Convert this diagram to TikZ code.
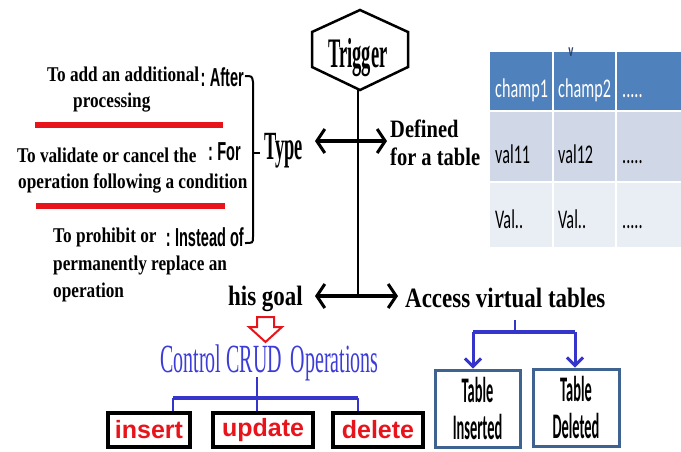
\documentclass[tikz,border=0pt]{standalone}
\usepackage{fontspec}
\usetikzlibrary{arrows.meta}
\setmainfont{Liberation Serif}
% condensed faces for the various labels
\newfontfamily\leftfont[FakeStretch=0.82]{Liberation Serif}
\newfontfamily\typefont[FakeStretch=0.46]{Liberation Serif}
\newfontfamily\trigfont[FakeStretch=0.44]{Liberation Serif}
\newfontfamily\crudfont[FakeStretch=0.5]{Liberation Serif}
\newfontfamily\kindfont[FakeStretch=0.56]{Liberation Sans}
\newfontfamily\opfont{Liberation Sans}
\newfontfamily\cellfont[FakeStretch=0.6]{Carlito}
\newfontfamily\vtfont[FakeStretch=0.4]{Carlito}
\definecolor{opred}{HTML}{E8141C}
\definecolor{crudblue}{HTML}{3C3CD8}
\definecolor{treeblue}{HTML}{3535CC}
\definecolor{hdrblue}{HTML}{4F81BD}
\definecolor{rowa}{HTML}{D0D8E8}
\definecolor{rowb}{HTML}{E9EDF4}
\definecolor{vtframe}{HTML}{3F6390}
\definecolor{markblue}{HTML}{2A3F6A}
\tikzset{
  txt/.style={inner sep=0pt, anchor=base west},
  lefttxt/.style={txt, font=\leftfont\fontsize{21}{25}\selectfont\bfseries},
  headtxt/.style={txt, font=\leftfont\fontsize{28}{32}\selectfont\bfseries},
  kindtxt/.style={inner sep=0pt, anchor=base east, font=\kindfont\fontsize{26}{30}\selectfont\bfseries},
  dblarrow/.style={line width=4pt, {Straight Barb[length=8pt,width=24pt,line width=3pt]}-{Straight Barb[length=8pt,width=24pt,line width=3pt]}},
  opbox/.style={draw=black, line width=3.5pt, minimum height=34pt, inner sep=0pt,
    text=opred, font=\opfont\fontsize{25}{28}\selectfont\bfseries},
  vtbox/.style={draw=vtframe, line width=3pt, minimum height=77pt, inner sep=0pt,
    align=center, font=\vtfont\fontsize{36}{37}\selectfont\bfseries},
  bluetree/.style={draw=treeblue, line width=2.5pt},
  bluearrow/.style={draw=treeblue, line width=3pt, -{Straight Barb[length=8pt,width=16pt,line width=3pt]}},
  celltxt/.style={txt, font=\cellfont\fontsize{27}{30}\selectfont},
}
\begin{document}
\begin{tikzpicture}[x=1pt,y=-1pt]
\useasboundingbox (0,0) rectangle (681,451);

% ---- trigger hexagon and main stem
\draw[line width=2.5pt, line join=miter] (360,10) -- (408,32) -- (408,67) -- (360,90) -- (312,67) -- (312,32) -- cycle;
\node[inner sep=0pt, anchor=base, font=\trigfont\fontsize{42}{44}\selectfont\bfseries] (trig) at (358,67) {Trigger};
\coordinate (hexbot) at (358,90);
\coordinate (goalhub) at (358,296);
\draw[line width=2pt] (hexbot) -- (goalhub);

% ---- type / defined for a table
\node[txt, font=\typefont\fontsize{40}{44}\selectfont\bfseries] (type) at (264,159) {Type};
\node[txt, font=\leftfont\fontsize{25}{28}\selectfont\bfseries] (def1) at (390,137) {Defined};
\node[txt, font=\leftfont\fontsize{25}{28}\selectfont\bfseries] (def2) at (390,165) {for a table};
\coordinate (typeL) at (315,141);
\coordinate (typeR) at (387,141);
\draw[dblarrow] (typeL) -- (typeR);

% ---- brace gathering the three kinds
\draw[line width=2pt] (245,76) .. controls (252,76) .. (253,82) -- (253,237) .. controls (253,243) .. (245,243);
\coordinate (bracetip) at (253,153);
\coordinate (bracepoint) at (260,153);
\draw[line width=2pt] (bracetip) -- (bracepoint);

\node[kindtxt] (after) at (244,86) {:\,After};
\node[kindtxt] (for) at (241,160) {:\,For};
\node[kindtxt] (instead) at (244,246) {:\,Instead of};

% ---- descriptions of the kinds
\node[lefttxt] (d1a) at (47,81) {To add an additional};
\node[lefttxt] (d1b) at (73,107) {processing};
\draw[opred, line width=6pt] (35,125) -- (223,125);
\node[lefttxt] (d2a) at (17,162) {To validate or cancel the};
\node[lefttxt] (d2b) at (18,188) {operation following a condition};
\draw[opred, line width=6pt] (36,206) -- (225,206);
\node[lefttxt] (d3a) at (53,242) {To prohibit or};
\node[lefttxt] (d3b) at (53,270) {permanently replace an};
\node[lefttxt] (d3c) at (53,297) {operation};

% ---- goal / virtual tables
\node[headtxt] (goal) at (228,305) {his goal};
\node[headtxt] (access) at (405,307) {Access virtual tables};
\coordinate (goalL) at (315,296);
\coordinate (goalR) at (398,296);
\draw[dblarrow] (goalL) -- (goalR);

% hollow red arrow under the goal
\draw[opred, line width=2pt, line join=miter] (257,317) -- (274,317) -- (274,327) -- (282,327) -- (265.5,342) -- (249,327) -- (257,327) -- cycle;

% ---- CRUD operations
\node[txt, text=crudblue, font=\crudfont\fontsize{40}{44}\selectfont] (crud) at (160,372) {Control CRUD\hspace{4pt} Operations};
\node[opbox, minimum width=82pt] (ins) at (149,430) {insert};
\node[opbox, minimum width=100pt] (upd) at (263,430) {update};
\node[opbox, minimum width=90pt] (del) at (378,430) {delete};
\coordinate (crudtop) at (257,377);
\coordinate (crudhub) at (257,398);
\coordinate (crudL) at (173,398);
\coordinate (crudR) at (358,398);
\draw[bluetree] (crudtop) -- (crudhub);
\draw[treeblue, line width=4pt] (crudL) -- (crudR);
\draw[bluetree] (crudL) -- (crudL |- ins.north);
\draw[bluetree] (crudhub) -- (crudhub |- upd.north);
\draw[bluetree] (crudR) -- (crudR |- del.north);

% ---- virtual tables
\node[vtbox, minimum width=85pt] (tin) at (477.5,408.5) {Table\\Inserted};
\node[vtbox, minimum width=86pt] (tdel) at (576,407.5) {Table\\Deleted};
\coordinate (vttop) at (515,320);
\coordinate (vthub) at (515,332);
\coordinate (vtL) at (473,332);
\coordinate (vtR) at (575,332);
\draw[bluetree] (vttop) -- (vthub);
\draw[treeblue, line width=4pt] (vtL) -- (vtR);
\draw[bluearrow] (vtL) -- (vtL |- tin.north);
\draw[bluearrow] (vtR) -- (vtR |- tdel.north);

% ---- sample table
\fill[hdrblue] (490,52) rectangle (681,110);
\fill[rowa] (490,112) rectangle (681,181);
\fill[rowb] (490,183) rectangle (681,247);
\draw[white, line width=2pt] (553,52) -- (553,247) (616,52) -- (616,247);
\draw[white, line width=2pt] (490,111) -- (681,111) (490,182) -- (681,182);
\node[celltxt, text=white] (h1) at (495,97) {champ1};
\node[celltxt, text=white] (h2) at (558,97) {champ2};
\node[celltxt, text=white] (h3) at (622,97) {.....};
\node[celltxt] (r11) at (495,163) {val11};
\node[celltxt] (r12) at (558,163) {val12};
\node[celltxt] (r13) at (622,163) {.....};
\node[celltxt] (r21) at (495,228) {Val..};
\node[celltxt] (r22) at (558,228) {Val..};
\node[celltxt] (r23) at (622,228) {.....};
\node[inner sep=0pt, text=markblue, font=\cellfont\fontsize{18}{18}\selectfont\bfseries] (mark) at (571,52) {v};
\end{tikzpicture}
\end{document}
